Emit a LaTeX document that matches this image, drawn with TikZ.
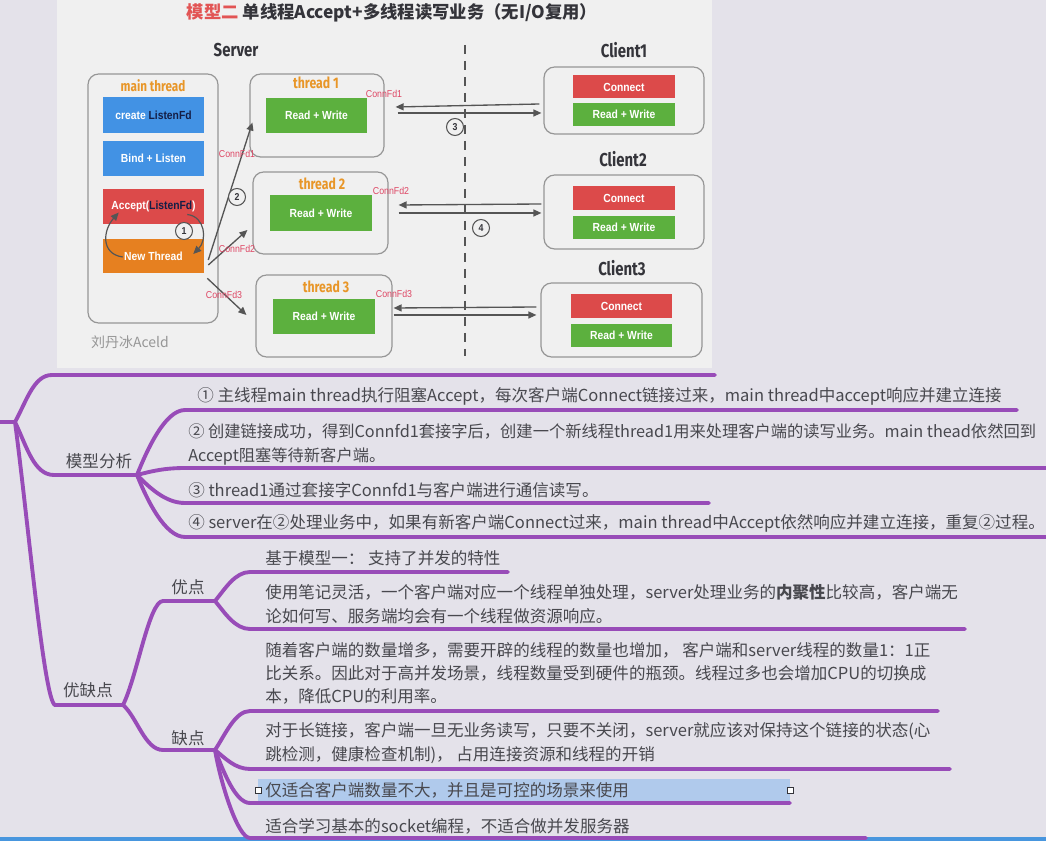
\documentclass[tikz,border=0pt]{standalone}
\usepackage{fontspec}
\setmainfont{Noto Sans CJK SC}
\newfontfamily\boxfont[FakeStretch=0.88]{Liberation Sans}
\newfontfamily\headfont[FakeStretch=0.8]{Fira Sans}
\usetikzlibrary{positioning, arrows.meta, calc}
\definecolor{pagebg}{RGB}{228, 226, 234}
\definecolor{shotbg}{RGB}{240, 240, 240}
\definecolor{mindpurple}{RGB}{152, 76, 184}
\definecolor{mindtext}{RGB}{72, 72, 78}
\definecolor{boxblue}{RGB}{66, 146, 228}
\definecolor{boxred}{RGB}{220, 74, 74}
\definecolor{boxgreen}{RGB}{92, 176, 62}
\definecolor{boxorange}{RGB}{230, 128, 32}
\definecolor{titleorange}{RGB}{232, 150, 40}
\definecolor{titlered}{RGB}{226, 84, 84}
\definecolor{fdred}{RGB}{222, 70, 100}
\definecolor{headdark}{RGB}{52, 52, 58}
\definecolor{navytext}{RGB}{20, 30, 70}
\definecolor{framegray}{RGB}{150, 150, 150}
\definecolor{arrowgray}{RGB}{85, 85, 85}
\definecolor{selblue}{RGB}{176, 202, 236}
\definecolor{barblue}{RGB}{72, 150, 222}
\newcommand{\px}[1]{#1*0.75pt}

\begin{document}
\begin{tikzpicture}[x=0.75pt, y=-0.75pt,
    wh/.style 2 args={minimum width=\px{#1}, minimum height=\px{#2}},
    frame/.style={draw=framegray, line width=0.9pt, rounded corners=8pt, inner sep=0pt},
    tbox/.style={inner sep=0pt, text=white, font=\boxfont\bfseries\fontsize{8.8}{10}\selectfont},
    head/.style={text=headdark, font=\headfont\bfseries\fontsize{14}{16}\selectfont},
    thlabel/.style={text=titleorange, font=\headfont\bfseries\fontsize{11.5}{13}\selectfont},
    fdlabel/.style={inner sep=0pt, text=fdred, font=\boxfont\fontsize{7.5}{9}\selectfont},
    numcirc/.style={circle, draw=arrowgray, line width=0.8pt, fill=shotbg, inner sep=0pt,
      minimum size=\px{17}, text=headdark, font=\boxfont\bfseries\fontsize{7.5}{9}\selectfont},
    flow/.style={draw=arrowgray, line width=1pt, -{Triangle[length=\px{8}, width=\px{7}]}},
    mindline/.style={draw=mindpurple, line width=2.9pt, line cap=round},
    leaf/.style={anchor=west, inner sep=0pt, align=left, text=mindtext, font=\fontsize{12.4}{17.5}\selectfont},
    topic/.style={inner sep=0pt, text=mindtext, font=\fontsize{12.4}{17}\selectfont}]
  \useasboundingbox (0,0) rectangle (1046,841);
  \fill[pagebg] (0,0) rectangle (1046,841);
  \fill[shotbg] (57,0) rectangle (712,368);

  % Title and column heads
  \node[text=headdark, font=\bfseries\fontsize{13}{15}\selectfont] (title) at (392,13)
    {\textcolor{titlered}{模型二} 单线程Accept+多线程读写业务（无I/O复用）};
  \node[head] (srvlbl) at (236,50) {Server};
  \node[head] (cl1lbl) at (624,50) {Client1};
  \node[head] (cl2lbl) at (623,159) {Client2};
  \node[head] (cl3lbl) at (622,268) {Client3};

  % Divider
  \coordinate (divtop) at (465,45);
  \coordinate (divbot) at (465,356);
  \draw[arrowgray, line width=1.1pt, dash pattern=on 7pt off 5pt] (divtop) -- (divbot);

  % Main thread
  \node[frame, wh={130}{249}] (mainfr) at (153,198.5) {};
  \node[thlabel, font=\headfont\bfseries\fontsize{11}{12}\selectfont] (mainlbl) at (153,86) {main thread};
  \node[tbox, fill=boxblue, wh={101}{36}] (mkfd) at (153.5,115) {create \textcolor{navytext}{ListenFd}};
  \node[tbox, fill=boxblue, wh={101}{35}] (bind) at (153.5,158.5) {Bind + Listen};
  \node[tbox, fill=boxred, wh={101}{35}] (accept) at (153.5,206.5) {Accept(\textcolor{navytext}{ListenFd})};
  \node[tbox, fill=boxorange, wh={101}{34}] (newthr) at (153.5,256) {New Thread};
  \draw[flow, line width=0.9pt] ($(newthr.west)+(20,1)$) .. controls +(-22,-3) and +(-16,18) .. ($(accept.west)+(16,6)$);
  \draw[flow, line width=0.9pt] ($(accept.east)+(-17,8)$) .. controls +(18,2) and +(14,-14) .. ($(newthr.east)+(-11,-2)$);
  \node[numcirc] (n1) at (184,231) {1};

  % Worker threads
  \node[frame, wh={134}{83}] (thr1) at (317,115.5) {};
  \node[thlabel] (thr1lbl) at (316,83) {thread 1};
  \node[tbox, fill=boxgreen, wh={101}{35}] (rw1) at (316.5,115.5) {Read + Write};
  \node[frame, wh={135}{82}] (thr2) at (320.5,213) {};
  \node[thlabel] (thr2lbl) at (322,184) {thread 2};
  \node[tbox, fill=boxgreen, wh={102}{36}] (rw2) at (321,213) {Read + Write};
  \node[frame, wh={136}{82}] (thr3) at (324,316) {};
  \node[thlabel] (thr3lbl) at (326,287) {thread 3};
  \node[tbox, fill=boxgreen, wh={102}{35}] (rw3) at (324,316.5) {Read + Write};

  % Clients
  \node[frame, wh={160}{67}] (cli1) at (624,100.5) {};
  \node[tbox, fill=boxred, wh={102}{23}] (conn1) at (624,87) {Connect};
  \node[tbox, fill=boxgreen, wh={102}{23}] (crw1) at (624,114.5) {Read + Write};
  \node[frame, wh={160}{74}] (cli2) at (624,212) {};
  \node[tbox, fill=boxred, wh={102}{24}] (conn2) at (624,198) {Connect};
  \node[tbox, fill=boxgreen, wh={102}{23}] (crw2) at (624,227.5) {Read + Write};
  \node[frame, wh={161}{74}] (cli3) at (621.5,320) {};
  \node[tbox, fill=boxred, wh={101}{24}] (conn3) at (621.5,306) {Connect};
  \node[tbox, fill=boxgreen, wh={101}{23}] (crw3) at (621.5,335.5) {Read + Write};

  % New Thread -> workers
  \draw[flow] ($(newthr.east)+(4,4)$) -- ($(thr1.west)+(3,7)$);
  \draw[flow] ($(newthr.east)+(4,9)$) -- ($(thr2.west)+(-5,17)$);
  \draw[flow] ($(newthr.south east)+(3,5)$) -- ($(thr3.west)+(-9,-1)$);
  \node[fdlabel] (fd1a) at (237,154) {ConnFd1};
  \node[fdlabel] (fd2a) at (237,249) {ConnFd2};
  \node[fdlabel] (fd3a) at (224,295) {ConnFd3};
  \node[numcirc] (n2) at (237,197) {2};

  % Workers <-> clients
  \draw[flow] ($(cli1.west)+(-4,3.5)$) -- ($(thr1.east)+(11,-8.5)$);
  \draw[flow] ($(thr1.east)+(13,-2.5)$) -- ($(cli1.west)+(-2,12.5)$);
  \draw[flow] ($(cli2.west)+(-2,-8)$) -- ($(thr2.east)+(10,-8)$);
  \draw[flow] ($(thr2.east)+(10,0)$) -- ($(cli2.west)+(-2,1)$);
  \draw[flow] ($(cli3.west)+(-4,-13)$) -- ($(thr3.east)+(1,-8)$);
  \draw[flow] ($(thr3.east)+(1,-1)$) -- ($(cli3.west)+(-4,-5)$);
  \node[fdlabel] (fd1b) at (384,94) {ConnFd1};
  \node[fdlabel] (fd2b) at (391,191) {ConnFd2};
  \node[fdlabel] (fd3b) at (394,294) {ConnFd3};
  \node[numcirc] (n3) at (455,127) {3};
  \node[numcirc] (n4) at (481,228) {4};

  % Signature
  \node[text=framegray, font=\fontsize{10.5}{12}\selectfont] (sign) at (130,342) {刘丹冰Aceld};

  % Mind map: root and first level
  \coordinate (root-in) at (0,422);
  \coordinate (root) at (15,422);
  \coordinate (shot-l) at (52,375);
  \coordinate (shot-r) at (715,375);
  \draw[mindline] (root-in) -- (root) .. controls +(12,-22) and +(-18,0) .. (shot-l) -- (shot-r);

  \node[topic] (fenxi) at (99,461) {模型分析};
  \coordinate (fenxi-l) at (54,475);
  \coordinate (fenxi-r) at (137,475);
  \draw[mindline] (root) .. controls +(12,25) and +(-20,0) .. (fenxi-l) -- (fenxi-r);

  \node[topic] (youque) at (88,690) {优缺点};
  \coordinate (yq-l) at (55,705);
  \coordinate (yq-r) at (123,705);
  \draw[mindline] (root) .. controls +(13,98) and +(-11,-4) .. (yq-l) -- (yq-r);

  % Model analysis items
  \node[leaf] (ana1) at (197,396) {① 主线程main thread执行阻塞Accept，每次客户端Connect链接过来，main thread中accept响应并建立连接};
  \node[leaf, font=\fontsize{12.2}{17.5}\selectfont] (ana2) at (188,444.5) {② 创建链接成功，得到Connfd1套接字后，创建一个新线程thread1用来处理客户端的读写业务。main thead依然回到\\Accept阻塞等待新客户端。};
  \node[leaf] (ana3) at (188,490) {③ thread1通过套接字Connfd1与客户端进行通信读写。};
  \node[leaf] (ana4) at (188,523) {④ server在②处理业务中，如果有新客户端Connect过来，main thread中Accept依然响应并建立连接，重复②过程。};
  \coordinate (ana1-l) at (185,410); \coordinate (ana1-r) at (1017,410);
  \coordinate (ana2-l) at (185,468); \coordinate (ana2-r) at (1046,468);
  \coordinate (ana3-l) at (185,503); \coordinate (ana3-r) at (709,503);
  \coordinate (ana4-l) at (185,537); \coordinate (ana4-r) at (1046,537);
  \draw[mindline] (fenxi-r) .. controls +(10,-25) and +(-20,0) .. (ana1-l) -- (ana1-r);
  \draw[mindline] (fenxi-r) .. controls +(15,-4) and +(-20,0) .. (ana2-l) -- (ana2-r);
  \draw[mindline] (fenxi-r) .. controls +(12,12) and +(-20,0) .. (ana3-l) -- (ana3-r);
  \draw[mindline] (fenxi-r) .. controls +(10,25) and +(-20,0) .. (ana4-l) -- (ana4-r);

  % Pros
  \node[topic] (you) at (188,587) {优点};
  \coordinate (you-l) at (163,601);
  \coordinate (you-r) at (215,601);
  \draw[mindline] (yq-r) .. controls +(14,-28) and +(-14,0) .. (you-l) -- (you-r);
  \node[leaf] (pro1) at (265,558) {基于模型一： 支持了并发的特性};
  \node[leaf] (pro2) at (265,604) {使用笔记灵活，一个客户端对应一个线程单独处理，server处理业务的{\bfseries 内聚性}比较高，客户端无\\论如何写、服务端均会有一个线程做资源响应。};
  \coordinate (pro1-l) at (250,572); \coordinate (pro1-r) at (508,572);
  \coordinate (pro2-l) at (250,629); \coordinate (pro2-r) at (965,629);
  \draw[mindline] (you-r) .. controls +(10,-12) and +(-15,0) .. (pro1-l) -- (pro1-r);
  \draw[mindline] (you-r) .. controls +(10,12) and +(-15,0) .. (pro2-l) -- (pro2-r);

  % Cons
  \node[topic] (que) at (188,738) {缺点};
  \coordinate (que-l) at (163,750);
  \coordinate (que-r) at (215,750);
  \draw[mindline] (yq-r) .. controls +(14,12) and +(-18,0) .. (que-l) -- (que-r);
  \fill[selblue] (258,779) rectangle (790,802);
  \draw[headdark, fill=white, line width=0.5pt] (255,787) rectangle (261,793);
  \draw[headdark, fill=white, line width=0.5pt] (787,787) rectangle (793,793);
  \node[leaf] (con1) at (265,673.5) {随着客户端的数量增多，需要开辟的线程的数量也增加， 客户端和server线程的数量1：1正\\比关系。因此对于高并发场景，线程数量受到硬件的瓶颈。线程过多也会增加CPU的切换成\\本，降低CPU的利用率。};
  \node[leaf] (con2) at (265,743) {对于长链接，客户端一旦无业务读写，只要不关闭，server就应该对保持这个链接的状态(心\\跳检测，健康检查机制)， 占用连接资源和线程的开销};
  \node[leaf] (con3) at (265,790) {仅适合客户端数量不大，并且是可控的场景来使用};
  \node[leaf] (con4) at (265,826) {适合学习基本的socket编程，不适合做并发服务器};
  \fill[barblue] (0,837) rectangle (1046,841);
  \coordinate (con1-l) at (250,711); \coordinate (con1-r) at (938,711);
  \coordinate (con2-l) at (250,769); \coordinate (con2-r) at (950,769);
  \coordinate (con3-l) at (250,803); \coordinate (con3-r) at (790,803);
  \coordinate (con4-l) at (250,838); \coordinate (con4-r) at (866,838);
  \draw[mindline] (que-r) .. controls +(10,-15) and +(-15,0) .. (con1-l) -- (con1-r);
  \draw[mindline] (que-r) .. controls +(10,8) and +(-15,0) .. (con2-l) -- (con2-r);
  \draw[mindline] (que-r) .. controls +(8,20) and +(-15,0) .. (con3-l) -- (con3-r);
  \draw[mindline] (que-r) .. controls +(6,35) and +(-12,0) .. (con4-l) -- (con4-r);
\end{tikzpicture}
\end{document}
